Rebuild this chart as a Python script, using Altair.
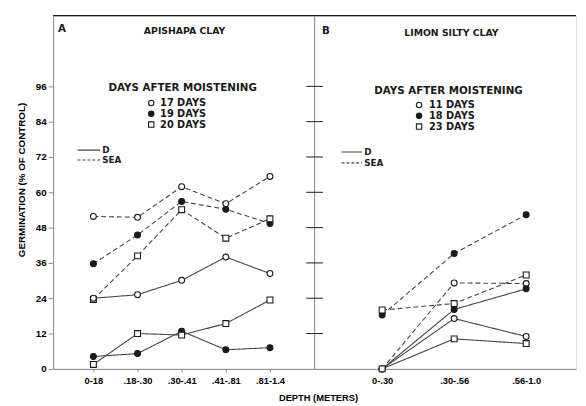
import altair as alt
import pandas as pd

# ---------------- data ----------------
depth_a = ["0-18", ".18-.30", ".30-.41", ".41-.81", ".81-1.4"]
depth_b = ["0-.30", ".30-.56", ".56-1.0"]
days_a = ["17 DAYS", "19 DAYS", "20 DAYS"]
days_b = ["11 DAYS", "18 DAYS", "23 DAYS"]
methods = ["D", "SEA"]
styles = ["open_circle", "filled_circle", "open_square"]

# Panel A (Apishapa clay)
a_sea_17 = [51.8, 51.5, 61.9, 56.1, 65.4]
a_sea_19 = [35.7, 45.5, 56.9, 54.2, 49.4]
a_sea_20 = [23.6, 38.4, 54.1, 44.4, 51.0]
a_d_17 = [24.0, 25.2, 30.1, 38.0, 32.4]
a_d_19 = [4.2, 5.2, 12.8, 6.5, 7.2]
a_d_20 = [1.5, 12.0, 11.5, 15.4, 23.4]

# Panel B (Limon silty clay)
b_sea_11 = [0.0, 29.2, 29.0]
b_sea_18 = [18.3, 39.2, 52.4]
b_sea_23 = [20.0, 22.2, 31.9]
b_d_11 = [0.0, 17.1, 11.0]
b_d_18 = [0.0, 20.2, 27.2]
b_d_23 = [0.0, 10.2, 8.6]

y_ticks = [0, 12, 24, 36, 48, 60, 72, 84, 96]
cross_ticks = [12, 24, 36, 48, 60, 72, 84, 96]

INK = "#1a1a1a"
LINE = "#444444"
FONT = "DejaVu Sans"


def build(depths, days, series):
    rows = []
    for (method, di), vals in series.items():
        for d, v in zip(depths, vals):
            rows.append({"depth": d, "value": v, "method": method,
                         "days": days[di], "style": styles[di],
                         "series": f"{method}-{days[di]}"})
    return pd.DataFrame(rows)


df_a = build(depth_a, days_a, {("SEA", 0): a_sea_17, ("SEA", 1): a_sea_19, ("SEA", 2): a_sea_20,
                               ("D", 0): a_d_17, ("D", 1): a_d_19, ("D", 2): a_d_20})
df_b = build(depth_b, days_b, {("SEA", 0): b_sea_11, ("SEA", 1): b_sea_18, ("SEA", 2): b_sea_23,
                               ("D", 0): b_d_11, ("D", 1): b_d_18, ("D", 2): b_d_23})

H = 360
shape_scale = alt.Scale(domain=styles, range=["circle", "circle", "square"])
fill_scale = alt.Scale(domain=styles, range=["white", INK, "white"])
dash_scale = alt.Scale(domain=methods, range=[[1, 0], [5, 3]])


def panel(df, depths, days, width, pad, align, letter, title, lg, is_a):
    if is_a:
        yaxis = alt.Axis(values=y_ticks, tickSize=5, labelFontSize=10, labelFontWeight="bold",
                         labelPadding=2, title="GERMINATION (% OF CONTROL)", titleFontSize=10,
                         titleFontWeight="bold", titlePadding=9, titleY=167, grid=False)
        xaxis = alt.Axis(title=None, labelAngle=0, tickSize=3, labelFontSize=9.5,
                         labelFontWeight="bold", labelPadding=4, grid=False)
    else:
        yaxis = alt.Axis(labels=False, ticks=False, title=None, grid=False)
        xaxis = alt.Axis(title="DEPTH (METERS)", labelAngle=0, ticks=False, labelFontSize=9.5,
                         labelFontWeight="bold", labelPadding=7, titleFontSize=9.5,
                         titleFontWeight="bold", titleX=4, titleAlign="center", titlePadding=8,
                         grid=False)
    X = alt.X("depth:O", sort=depths,
              scale=alt.Scale(type="point", domain=depths, padding=pad, align=align), axis=xaxis)
    Y = alt.Y("value:Q", scale=alt.Scale(domain=[0, 120], nice=False), axis=yaxis)

    lines = alt.Chart(df).mark_line(color=LINE, strokeWidth=1.1).encode(
        x=X, y=Y, detail="series:N",
        strokeDash=alt.StrokeDash("method:N", scale=dash_scale, legend=None))
    pts = alt.Chart(df).mark_point(filled=True, stroke=INK, strokeWidth=1.1, size=36, opacity=1).encode(
        x=X, y=Y,
        shape=alt.Shape("style:N", scale=shape_scale, legend=None),
        fill=alt.Fill("style:N", scale=fill_scale, legend=None))

    layers = [lines, pts]

    # top border
    layers.append(alt.Chart(pd.DataFrame({"v": [0]})).mark_rule(color=INK, strokeWidth=1.3).encode(
        x=alt.value(0), x2=alt.value(width), y=alt.value(0)))
    # ticks crossing the divider
    tdf = pd.DataFrame({"value": cross_ticks})
    if is_a:
        tx, tx2 = width - 8, width
    else:
        tx, tx2 = 0, 9
    layers.append(alt.Chart(tdf).mark_rule(color=INK, strokeWidth=1).encode(
        y=alt.Y("value:Q", scale=alt.Scale(domain=[0, 120], nice=False), axis=yaxis),
        x=alt.value(tx), x2=alt.value(tx2)))

    one = pd.DataFrame({"v": [0]})

    def txt(s, x, y, size=9, align="center"):
        return alt.Chart(one).mark_text(text=s, font=FONT, fontWeight="bold", fontSize=size,
                                        color=INK, align=align, baseline="middle").encode(
            x=alt.value(x), y=alt.value(y))

    layers.append(txt(letter, lg["letter_x"], lg["letter_y"], size=10.5, align="left"))
    layers.append(txt(title, lg["title_x"], lg["title_y"], size=9.5))
    layers.append(txt("DAYS AFTER MOISTENING", lg["head_x"], lg["head_y"], size=10.5))
    for i, d in enumerate(days):
        yy = lg["row_y"][i]
        layers.append(alt.Chart(one).mark_point(filled=True, stroke=INK, strokeWidth=1.1, size=30,
                                                 opacity=1).encode(
            x=alt.value(lg["sym_x"]), y=alt.value(yy),
            shape=alt.value(["circle", "circle", "square"][i]),
            fill=alt.value(["white", INK, "white"][i])))
        layers.append(txt(d, lg["lab_x"], yy, size=10, align="left"))
    for j, m in enumerate(methods):
        yy = lg["m_y"][j]
        layers.append(alt.Chart(one).mark_rule(color=LINE, strokeWidth=1.1,
                                               strokeDash=[1, 0] if m == "D" else [3, 2]).encode(
            x=alt.value(lg["m_x0"]), x2=alt.value(lg["m_x1"]), y=alt.value(yy)))
        layers.append(txt(m, lg["m_x1"] + 2, yy, size=9, align="left"))

    return alt.layer(*layers).properties(width=width, height=H)


lg_a = dict(letter_x=5, letter_y=14, title_x=134, title_y=16, head_x=132, head_y=74,
            sym_x=100, lab_x=109, row_y=[89, 100, 111], m_x0=25, m_x1=48, m_y=[137, 147])
lg_b = dict(letter_x=8, letter_y=16, title_x=140, title_y=18, head_x=137, head_y=77,
            sym_x=107, lab_x=117, row_y=[91, 102, 113], m_x0=28, m_x1=49, m_y=[139, 150])

pa = panel(df_a, depth_a, days_a, 266, 0.956, 0.477, "A", "APISHAPA CLAY", lg_a, True)
pb = panel(df_b, depth_b, days_b, 267, 0.819, 0.577, "B", "LIMON SILTY CLAY", lg_b, False)

chart = alt.hconcat(pa, pb, spacing=0, bounds="flush").properties(
    padding={"left": 8, "top": 2, "right": 0, "bottom": 0}
).configure_view(stroke=None).configure_axis(
    domainColor=INK, domainWidth=1.3, tickColor=INK, labelColor=INK, titleColor=INK,
    labelFont=FONT, titleFont=FONT
).configure(background="white")

chart.save("out.html", embed_options={"renderer": "svg", "actions": False})
